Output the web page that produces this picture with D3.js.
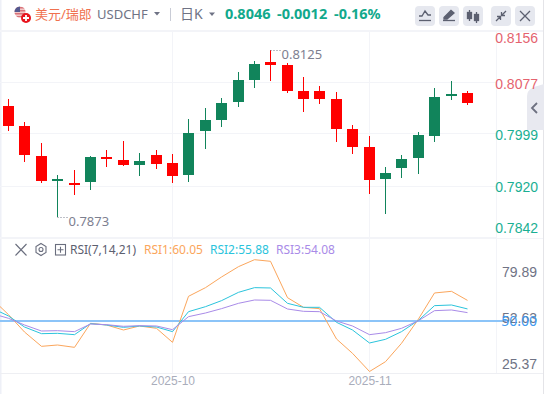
<!DOCTYPE html>
<html>
<head>
<meta charset="utf-8">
<script src="https://cdn.jsdelivr.net/npm/d3@7"></script>
<style>
html, body { margin: 0; padding: 0; background: #fff; overflow: hidden; }
svg { display: block; font-family: "Noto Sans", "Noto Sans CJK SC", sans-serif; }
</style>
</head>
<body>
<svg id="chart"></svg>
<script>
var w = 544;
var h = 394;

// Candles, oldest first
var opens = [0.80406, 0.80103, 0.79647, 0.79283, 0.79242, 0.79253, 0.79632, 0.79587, 0.79511, 0.79663, 0.79541, 0.79359, 0.80027, 0.80194, 0.80467, 0.80800, 0.81073, 0.81028, 0.80633, 0.80633, 0.80512, 0.80057, 0.79784, 0.79299, 0.79465, 0.79617, 0.79951, 0.80558, 0.80603];
var highs = [0.80512, 0.80168, 0.79845, 0.79359, 0.79435, 0.79647, 0.79738, 0.79875, 0.79693, 0.79738, 0.79678, 0.80209, 0.80376, 0.80527, 0.80922, 0.81089, 0.81250, 0.81058, 0.80846, 0.80709, 0.80618, 0.80118, 0.79951, 0.79481, 0.79663, 0.80011, 0.80679, 0.80785, 0.80633];
var lows = [0.80031, 0.79556, 0.79242, 0.78730, 0.79056, 0.79132, 0.79481, 0.79496, 0.79344, 0.79450, 0.79238, 0.79253, 0.79754, 0.80087, 0.80391, 0.80679, 0.80785, 0.80603, 0.80315, 0.80436, 0.79860, 0.79678, 0.79071, 0.78768, 0.79314, 0.79374, 0.79860, 0.80497, 0.80421];
var closes = [0.80107, 0.79667, 0.79268, 0.79303, 0.79227, 0.79632, 0.79602, 0.79511, 0.79572, 0.79526, 0.79344, 0.79996, 0.80194, 0.80451, 0.80800, 0.81043, 0.81028, 0.80633, 0.80512, 0.80512, 0.80057, 0.79784, 0.79283, 0.79390, 0.79602, 0.79966, 0.80542, 0.80588, 0.80460];

// RSI lines start one candle before the first visible one
var rsi1 = [60.57, 53.09, 44.63, 37.64, 38.29, 37.15, 48.86, 48.05, 45.61, 47.56, 46.42, 39.59, 62.03, 66.26, 71.46, 76.50, 79.89, 79.11, 61.38, 56.67, 56.02, 41.22, 34.23, 25.37, 30.16, 39.11, 50.98, 63.66, 64.47, 60.05];
var rsi2 = [56.18, 52.44, 47.07, 43.82, 43.98, 43.33, 48.70, 48.05, 46.91, 47.56, 47.07, 44.80, 54.55, 56.99, 59.92, 63.98, 66.26, 66.10, 58.62, 56.67, 56.67, 49.35, 45.61, 39.27, 41.06, 44.80, 50.33, 57.48, 57.80, 55.88];
var rsi3 = [53.58, 51.30, 48.05, 45.12, 45.28, 44.80, 48.54, 48.21, 47.40, 47.72, 47.56, 45.77, 52.11, 53.90, 56.02, 58.62, 60.24, 60.08, 55.85, 54.72, 54.55, 50.00, 47.56, 43.33, 44.31, 46.42, 50.16, 55.04, 55.37, 54.08];

var priceTicks = [0.8156, 0.8077, 0.7999, 0.7920, 0.7842];
var rsiTicks = [79.89, 52.63, 25.37];
var rsiLevel = 50;
var monthLabels = ["2025-10", "2025-11"];
var monthIndex = [10, 22];

// Colours
var up = "#11845b";
var down = "#ff0000";
var grid = "#f3f4f8";
var orange = "#fba65c";
var cyan = "#2bc4dc";
var purple = "#a98be8";
var teal = "#12a98c";

var xScale = d3.scaleLinear().domain([0, 28]).range([8.5, 467.5]);
var yScale = d3.scaleLinear().domain([0.8156, 0.7842]).range([30, 237]);
var rsiScale = d3.scaleLinear().domain([79.89, 25.37]).range([259.7, 371.5]);

// Candle centres sit on a half pixel so the wicks stay sharp
function cx(i) { return Math.floor(xScale(i)) + 0.5; }

var svg = d3.select("#chart").attr("width", w).attr("height", h);

svg.append("rect").attr("width", w).attr("height", h).attr("fill", "#fff");
svg.append("rect").attr("x", 0).attr("y", 0).attr("width", 1.5).attr("height", h).attr("fill", "#eef0f7");
svg.append("rect").attr("x", 543).attr("y", 0).attr("width", 1).attr("height", h).attr("fill", "#e4e4e8");

// Grid
var gridG = svg.append("g").attr("shape-rendering", "crispEdges");
gridG.selectAll(".h").data(priceTicks).enter().append("line")
    .attr("x1", 0).attr("x2", 496)
    .attr("y1", d => Math.round(yScale(d)) + 0.5)
    .attr("y2", d => Math.round(yScale(d)) + 0.5)
    .attr("stroke", grid).attr("stroke-width", 1);
gridG.selectAll(".v").data(monthIndex).enter().append("line")
    .attr("x1", d => cx(d)).attr("x2", d => cx(d))
    .attr("y1", 31).attr("y2", 373)
    .attr("stroke", grid).attr("stroke-width", 1);
gridG.append("line").attr("x1", 0).attr("x2", 543).attr("y1", 31).attr("y2", 31).attr("stroke", grid).attr("stroke-width", 2);
gridG.append("line").attr("x1", 0).attr("x2", 543).attr("y1", 373.5).attr("y2", 373.5).attr("stroke", "#eeeff3");
gridG.append("line").attr("x1", 0).attr("x2", 543).attr("y1", 238).attr("y2", 238).attr("stroke", grid).attr("stroke-width", 1);
gridG.append("line").attr("x1", 496.5).attr("x2", 496.5).attr("y1", 31).attr("y2", 373).attr("stroke", grid);

// Candles
var candles = svg.append("g").attr("shape-rendering", "crispEdges");
closes.forEach(function (c, i) {
    var col = c >= opens[i] ? up : down;
    candles.append("line")
        .attr("x1", cx(i)).attr("x2", cx(i))
        .attr("y1", yScale(highs[i])).attr("y2", yScale(lows[i]))
        .attr("stroke", col).attr("stroke-width", 1);
    var top = yScale(Math.max(c, opens[i]));
    var bottom = yScale(Math.min(c, opens[i]));
    candles.append("rect")
        .attr("x", cx(i) - 5.5).attr("width", 11)
        .attr("y", Math.round(top))
        .attr("height", Math.max(Math.round(bottom) - Math.round(top), 2))
        .attr("fill", col);
});

// High and low callouts
function callout(i, value, dy) {
    var x0 = cx(i), y0 = Math.round(yScale(value)) + 0.5;
    svg.append("line").attr("x1", x0).attr("x2", x0 + 10).attr("y1", y0).attr("y2", y0)
        .attr("stroke", "#7d8090").attr("stroke-dasharray", "1,2");
    svg.append("text").attr("x", x0 + 11).attr("y", y0 + dy)
        .attr("font-size", 13).attr("fill", "#7d8090").text(value.toFixed(4));
}
callout(16, 0.8125, 8);
callout(3, 0.7873, 8);

// Side tab behind the price labels
svg.append("path").attr("d", "M544,84 L534,87 Q527,90 527,96 L527,130 L544,130 Z").attr("fill", "#e8e9f0");
svg.append("path").attr("d", "M537,103 L532,108 L537,113").attr("fill", "none").attr("stroke", "#6d7080").attr("stroke-width", 1.8);

// Price axis, labels are pushed inside the panel at both ends.
// The text y is relative to its tick group, so take the scale back off.
var priceAxis = d3.axisRight(yScale).tickValues(priceTicks).tickSize(0).tickPadding(0).tickFormat(d3.format(".4f"));
svg.append("g").attr("transform", "translate(538,0)").call(priceAxis)
    .call(g => g.select(".domain").remove())
    .selectAll("text")
    .attr("x", 0)
    .attr("text-anchor", "end")
    .attr("font-family", "inherit")
    .attr("font-size", 14)
    .attr("fill", d => d > 0.8046 ? "#e5636f" : "#1aaf93")
    .attr("y", d => Math.min(Math.max(yScale(d) + 1.5, 38), 228) - yScale(d));

// RSI level line
svg.append("line").attr("x1", 0).attr("x2", 506)
    .attr("y1", rsiScale(rsiLevel)).attr("y2", rsiScale(rsiLevel))
    .attr("stroke", "#8cc4f8").attr("stroke-width", 2);

// RSI lines
var rsiLine = d3.line()
    .x((d, i) => cx(i - 1) )
    .y(d => rsiScale(d));
[[rsi1, orange], [rsi2, cyan], [rsi3, purple]].forEach(function (s) {
    svg.append("path").datum(s[0])
        .attr("fill", "none").attr("stroke", s[1]).attr("stroke-width", 1).attr("d", rsiLine);
});

// RSI axis
var rsiAxis = d3.axisRight(rsiScale).tickValues(rsiTicks).tickSize(0).tickPadding(0).tickFormat(d3.format(".2f"));
svg.append("g").attr("transform", "translate(537,0)").call(rsiAxis)
    .call(g => g.select(".domain").remove())
    .selectAll("text")
    .attr("x", 0)
    .attr("text-anchor", "end")
    .attr("font-family", "inherit")
    .attr("font-size", 14)
    .attr("fill", "#6f7385")
    .attr("y", d => Math.min(Math.max(rsiScale(d) + 2, 272), 364) - rsiScale(d));
svg.append("text").attr("x", 537).attr("y", rsiScale(rsiLevel) + 1).attr("dy", "0.32em")
    .attr("text-anchor", "end").attr("font-size", 14).attr("fill", "#3f9af0").text(rsiLevel.toFixed(2));

// Month axis
var monthScale = d3.scaleOrdinal().domain(monthLabels).range(monthIndex.map(cx));
var monthAxis = d3.axisBottom(monthScale).tickSize(0).tickPadding(0);
svg.append("g").attr("transform", "translate(0,376)").call(monthAxis)
    .call(g => g.select(".domain").remove())
    .selectAll("text")
    .attr("font-family", "inherit")
    .attr("font-size", 12)
    .attr("fill", "#a9adbb");

// RSI header
var rsiHead = [["RSI(7,14,21)", 70, "#5c6070"], ["RSI1:60.05", 144, orange], ["RSI2:55.88", 210, cyan], ["RSI3:54.08", 276, purple]];
svg.selectAll(".rsiHead").data(rsiHead).enter().append("text")
    .attr("x", d => d[1]).attr("y", 254).attr("font-size", 12).attr("fill", d => d[2]).text(d => d[0]);
var headIcon = svg.append("g").attr("fill", "none").attr("stroke", "#6a6e7e").attr("stroke-width", 1.1);
headIcon.append("path").attr("d", "M15.5,244 L26.5,255.5 M26.5,244 L15.5,255.5");
headIcon.append("path").attr("d", "M41,243.5 L46,246.5 L46,252.5 L41,255.5 L36,252.5 L36,246.5 Z");
headIcon.append("circle").attr("cx", 41).attr("cy", 249.5).attr("r", 2);
headIcon.append("rect").attr("x", 55.5).attr("y", 244.5).attr("width", 10).attr("height", 10.5);
headIcon.append("path").attr("d", "M57.5,249.7 L63.5,249.7 M60.5,246.7 L60.5,252.7");

// Top header
function headText(str, x, size, fill, weight) {
    svg.append("text").attr("x", x).attr("y", 18.5).attr("font-size", size).attr("fill", fill)
        .attr("font-weight", weight || 400).text(str);
}
svg.append("clipPath").attr("id", "flag").append("circle").attr("cx", 20).attr("cy", 12).attr("r", 5.5);
var flag = svg.append("g").attr("clip-path", "url(#flag)");
flag.append("rect").attr("x", 14).attr("y", 6).attr("width", 12).attr("height", 12).attr("fill", "#f2c9c9");
d3.range(4).forEach(function (k) {
    flag.append("rect").attr("x", 14).attr("y", 7 + k * 3).attr("width", 12).attr("height", 1.5).attr("fill", "#d9737a");
});
flag.append("rect").attr("x", 14).attr("y", 6).attr("width", 6).attr("height", 6).attr("fill", "#55598f");
svg.append("circle").attr("cx", 26).attr("cy", 18).attr("r", 5).attr("fill", "#e8141d");
svg.append("path").attr("d", "M23,18 L29,18 M26,15 L26,21").attr("stroke", "#fff").attr("stroke-width", 1.8);

headText("美元/瑞郎", 35, 13, "#f0714f");
headText("USDCHF", 97, 13, "#6f7385");
svg.append("path").attr("d", "M154,12 L160,12 L157,15.5 Z").attr("fill", "#6f7385");
svg.append("line").attr("x1", 170.5).attr("x2", 170.5).attr("y1", 8).attr("y2", 21).attr("stroke", "#c9ccd6");
headText("日K", 180, 14, "#6f7385");
svg.append("path").attr("d", "M209,12.5 L215,12.5 L212,16 Z").attr("fill", "#6f7385");
headText("0.8046", 225, 14.5, teal, 700);
headText("-0.0012", 277, 14.5, teal, 700);
headText("-0.16%", 334, 14.5, teal, 700);

// Toolbar buttons
var buttonX = [415, 439, 463, 491, 515];
svg.selectAll(".btn").data(buttonX).enter().append("rect")
    .attr("x", d => d).attr("y", 6).attr("width", 20).attr("height", 20).attr("rx", 4).attr("fill", "#e6e8ef");
var tool = svg.append("g").attr("fill", "none").attr("stroke", "#5c6070").attr("stroke-width", 1.3);
tool.append("path").attr("d", "M419,16 L422,16 L425,11 L428,15 L431,15");
tool.append("path").attr("d", "M419,20.5 L431,20.5");
tool.append("path").attr("d", "M443,20.5 L455,20.5");
tool.append("path").attr("d", "M444,17.5 L451,10.5 L454,13 L447,19 L444,19 Z").attr("fill", "#5c6070");
tool.append("path").attr("d", "M469.5,10 L469.5,21 M476.5,12 L476.5,23");
tool.append("rect").attr("x", 467.5).attr("y", 12.5).attr("width", 4).attr("height", 6).attr("fill", "#5c6070");
tool.append("rect").attr("x", 474.5).attr("y", 14.5).attr("width", 4).attr("height", 6).attr("fill", "#5c6070");
tool.append("path").attr("d", "M496,21 L500,17 M506,11 L502,15 M497,16.5 L500.5,16.5 L500.5,20 M505,15.5 L501.5,15.5 L501.5,12");
tool.append("path").attr("d", "M520,11 L530,21 M530,11 L520,21");
</script>
</body>
</html>
